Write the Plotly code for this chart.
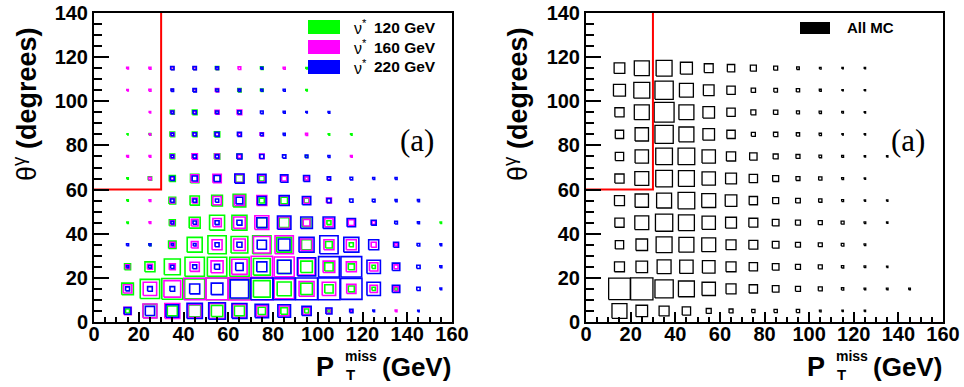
import math
import plotly.graph_objects as go

# ---------------- data ----------------
x_centers = [15, 25, 35, 45, 55, 65, 75, 85, 95, 105, 115, 125, 135, 145, 155]   # PT miss bin centres (GeV)
y_centers = [5, 15, 25, 35, 45, 55, 65, 75, 85, 95, 105, 115]                    # theta bin centres (deg)
BIN_W = 10
x_ticks = [0, 20, 40, 60, 80, 100, 120, 140, 160]
y_ticks = [0, 20, 40, 60, 80, 100, 120, 140]
CUT_PT = 30
CUT_THETA = 60

# rows: theta bins (5 .. 115), columns: PT bins (15 .. 155)
nu120 = [
    [3.2, 36, 20, 29, 26, 20, 11, 8.9, 3.2, 1.4, 0, 0, 0, 0, 0],
    [27, 75, 88, 80, 97, 86, 56, 39, 27, 14, 7.2, 2.2, 1.4, 0, 0],
    [7.2, 20, 51, 75, 75, 75, 56, 36, 27, 14, 7.2, 2.2, 0, 0, 0],
    [0, 0.8, 11, 45, 67, 56, 67, 45, 20, 8.9, 3.2, 0, 0, 0, 0],
    [0.4, 0, 7.2, 24, 45, 45, 20, 20, 14, 3.2, 0, 0, 0, 0, 0.4],
    [0.4, 0, 8.9, 17, 23, 32, 5.0, 8.9, 5.0, 0, 0, 0, 0, 0, 0],
    [0.4, 2.2, 7.2, 14, 8.9, 11, 5.0, 0, 3.2, 0, 0, 0, 0, 0, 0],
    [0, 0, 4.4, 4.4, 5.7, 4.4, 0, 0, 0.8, 0, 0, 0, 0, 0, 0],
    [0.2, 0.6, 4.4, 4.4, 5.7, 2.2, 0, 0, 0, 0.4, 0.4, 0, 0, 0, 0],
    [0, 0, 3.2, 4.4, 2.2, 2.2, 0, 0, 0, 0, 0, 0, 0, 0, 0],
    [0, 0, 0.8, 1.4, 1.4, 2.2, 1.4, 0, 0.4, 0, 0, 0, 0, 0, 0],
    [0, 0, 1.4, 1.4, 2.2, 0, 1.4, 0, 0.4, 0, 0, 0, 0, 0, 0],
]
nu160 = [
    [11, 39, 45, 36, 47, 36, 23, 20, 11, 4.4, 0.8, 0, 0.6, 0, 0],
    [14, 36, 56, 94, 97, 100, 97, 80, 45, 36, 17, 11, 4.4, 0, 0],
    [3.2, 5.0, 7.2, 17, 29, 47, 91, 80, 56, 27, 20, 14, 3.2, 0, 0],
    [0, 0, 5.0, 8.9, 20, 27, 56, 67, 27, 20, 20, 5.0, 1.4, 0, 0],
    [0, 0.6, 3.2, 8.9, 14, 27, 39, 27, 8.9, 14, 7.2, 2.2, 0, 0, 0],
    [0, 0.6, 4.4, 5.0, 14, 20, 20, 17, 7.2, 5.0, 0, 0, 0, 0, 0],
    [0, 1.4, 2.2, 11, 14, 14, 8.9, 5.0, 2.2, 1.4, 0, 0, 0, 0, 0],
    [0.6, 0.6, 2.2, 5.7, 4.4, 2.2, 4.4, 0, 0, 0, 0.6, 0, 0, 0, 0],
    [0, 0.4, 2.2, 2.2, 2.2, 1.4, 2.2, 0, 0.8, 0, 0, 0, 0, 0, 0],
    [0, 0.4, 1.4, 1.4, 3.2, 4.4, 0, 0, 0, 0, 0, 0, 0, 0, 0],
    [0.4, 0.8, 0.8, 1.4, 2.2, 0.8, 0, 0, 0, 0, 0, 0, 0, 0, 0],
    [0.6, 0.8, 1.4, 1.4, 1.4, 1.4, 0, 0.8, 0, 0, 0, 0, 0, 0, 0],
]
nu220 = [
    [8.9, 17, 32, 47, 56, 45, 36, 32, 17, 7.2, 2.2, 0.6, 0, 0.4, 0],
    [3.2, 4.4, 4.4, 20, 27, 67, 97, 97, 97, 97, 91, 36, 11, 2.2, 0.6],
    [0.8, 1.4, 2.2, 3.2, 5.0, 11, 20, 36, 67, 86, 86, 36, 11, 2.2, 0.8],
    [0.8, 0.8, 0.8, 1.4, 3.2, 5.0, 17, 27, 45, 67, 45, 20, 5.0, 1.4, 0.6],
    [0, 0, 1.4, 2.2, 3.2, 5.0, 20, 36, 27, 27, 14, 5.0, 1.4, 0.8, 0],
    [0, 0, 2.2, 2.2, 2.2, 8.9, 14, 20, 14, 3.2, 2.2, 1.4, 0.8, 0.8, 0],
    [0, 0, 3.2, 5.0, 7.2, 17, 14, 11, 7.2, 2.2, 1.4, 0.8, 0.8, 0, 0],
    [0, 0, 1.4, 2.2, 2.2, 5.0, 3.2, 2.2, 1.4, 0.8, 0, 0, 0, 0, 0],
    [0, 0, 1.4, 2.2, 3.2, 3.2, 1.4, 0.8, 0, 0, 0, 0, 0, 0, 0],
    [0, 0, 1.4, 2.2, 1.4, 2.2, 1.4, 0.8, 0.4, 0.6, 0, 0, 0, 0, 0],
    [0, 0, 1.1, 2.2, 1.4, 1.1, 0.8, 0.8, 0, 0, 0, 0, 0, 0, 0],
    [0, 0, 2.2, 2.2, 1.4, 0, 0.8, 0, 0, 0, 0, 0, 0, 0, 0],
]
all_mc = [
    [45, 27, 20, 14, 5.0, 3.2, 2.2, 2.2, 2.2, 0.6, 0.4, 0.4, 0, 0, 0],
    [94, 100, 67, 51, 36, 20, 14, 8.9, 5.0, 3.2, 1.1, 0.6, 0.6, 0.6, 0],
    [20, 27, 39, 36, 32, 20, 14, 8.9, 5.0, 3.2, 1.1, 0.6, 0.4, 0, 0],
    [14, 27, 51, 45, 39, 20, 16, 8.9, 5.0, 3.2, 1.4, 0.6, 0, 0, 0],
    [17, 39, 60, 51, 36, 24, 16, 8.9, 5.0, 3.2, 1.8, 0.6, 0.4, 0, 0],
    [20, 36, 45, 56, 39, 27, 14, 7.2, 4.4, 2.2, 0.8, 0.4, 0.4, 0, 0],
    [17, 39, 56, 51, 36, 24, 14, 7.2, 3.2, 2.2, 0.8, 0.4, 0, 0, 0],
    [14, 36, 56, 56, 36, 17, 11, 5.0, 3.2, 1.4, 0.8, 0.4, 0.4, 0, 0],
    [14, 36, 67, 45, 27, 14, 3.2, 3.8, 2.2, 1.1, 0.4, 0.4, 0, 0, 0],
    [17, 45, 80, 45, 27, 14, 5.0, 3.8, 1.8, 1.1, 0.6, 0.4, 0, 0, 0],
    [29, 51, 67, 39, 23, 14, 3.8, 2.7, 2.2, 0.8, 0.4, 0.4, 0, 0, 0],
    [23, 45, 51, 29, 16, 11, 7.2, 3.2, 1.4, 0.6, 0.4, 0.4, 0, 0, 0],
]
left_series = [("120 GeV", nu120, "#00ff00"),
               ("160 GeV", nu160, "#ff00ff"),
               ("220 GeV", nu220, "#0000ff")]

# ---------------- helpers ----------------
W, H = 964, 387


def box_path(counts, vmax):
    xs, ys = [], []
    for j, yc in enumerate(y_centers):
        for i, xc in enumerate(x_centers):
            v = counts[j][i]
            if v <= 0:
                continue
            h = 0.5 * BIN_W * math.sqrt(v / vmax)
            xs += [xc - h, xc + h, xc + h, xc - h, xc - h, None]
            ys += [yc - h, yc - h, yc + h, yc + h, yc - h, None]
    return xs, ys


def px(xp):
    return xp / W


def py(yp):
    return 1 - yp / H


fig = go.Figure()
vmax_left = max(max(max(r) for r in s[1]) for s in left_series)
for name, data, col in left_series:
    xs, ys = box_path(data, vmax_left)
    fig.add_trace(go.Scatter(x=xs, y=ys, mode="lines", line=dict(color=col, width=1.6),
                             xaxis="x", yaxis="y", showlegend=False, hoverinfo="skip"))
vmax_right = max(max(r) for r in all_mc)
xs, ys = box_path(all_mc, vmax_right)
fig.add_trace(go.Scatter(x=xs, y=ys, mode="lines", line=dict(color="black", width=1.3),
                         xaxis="x2", yaxis="y2", showlegend=False, hoverinfo="skip"))

# cut lines
for xa, ya in (("x", "y"), ("x2", "y2")):
    fig.add_trace(go.Scatter(x=[0, CUT_PT, CUT_PT], y=[CUT_THETA, CUT_THETA, y_ticks[-1]],
                             mode="lines", line=dict(color="#ff0000", width=2),
                             xaxis=xa, yaxis=ya, showlegend=False, hoverinfo="skip"))

FONT = "Liberation Sans"
axis_common = dict(range=[x_ticks[0], x_ticks[-1]], showline=True, linecolor="black", linewidth=2,
                   mirror=True, ticks="inside", ticklen=10, tickwidth=2, tickcolor="black",
                   tickvals=x_ticks, showgrid=False, zeroline=False, automargin=False,
                   ticklabelstandoff=-7,
                   minor=dict(ticks="inside", ticklen=5, tickwidth=1.5, dtick=5, tick0=0, tickcolor="black"),
                   tickfont=dict(family=FONT, size=20, color="black", weight="bold"))
yaxis_common = dict(range=[y_ticks[0], y_ticks[-1]], showline=True, linecolor="black", linewidth=2,
                    mirror=True, ticks="inside", ticklen=15, tickwidth=2, tickcolor="black",
                    tickvals=y_ticks, showgrid=False, zeroline=False, automargin=False,
                    minor=dict(ticks="inside", ticklen=8, tickwidth=1.5, dtick=5, tick0=0, tickcolor="black"),
                    tickfont=dict(family=FONT, size=20, color="black", weight="bold"))

dl = [px(94), px(452)]
dr = [px(586), px(943)]
dy = [py(322), py(13)]
fig.update_layout(
    width=W, height=H, margin=dict(l=0, r=0, t=0, b=0, autoexpand=False),
    paper_bgcolor="white", plot_bgcolor="white",
    xaxis=dict(domain=dl, anchor="y", **axis_common),
    yaxis=dict(domain=dy, anchor="x", **yaxis_common),
    xaxis2=dict(domain=dr, anchor="y2", **axis_common),
    yaxis2=dict(domain=dy, anchor="x2", **yaxis_common),
)

ann = []
shapes = []


def add_text(xp, yp, text, size, xanchor="left", family=FONT, angle=0):
    ann.append(dict(x=px(xp), y=py(yp), xref="paper", yref="paper", text=text,
                    xanchor=xanchor, yanchor="middle", showarrow=False, textangle=angle,
                    font=dict(family=family, size=size, color="black")))


for off in (0, 491):
    add_text(314 + off, 367, "<b>P</b>", 27)
    add_text(344 + off, 374, "<b>T</b>", 15)
    add_text(343 + off, 356, "<b>miss</b>", 14)
    add_text(453 + off, 367, "<b>(GeV)</b>", 26, xanchor="right")
    add_text(25 + off, 104, "θ<sup>γ</sup> <b>(degrees)</b>", 27, xanchor="center", angle=-90)
    add_text(417 + off, 140, "(a)", 31, xanchor="center", family="Liberation Serif")

# legends
leg_y = [27, 47, 67]
for (name, _, col), yc in zip(left_series, leg_y):
    shapes.append(dict(type="rect", xref="paper", yref="paper", x0=px(308), x1=px(340),
                       y0=py(yc + 7), y1=py(yc - 7), fillcolor=col, line=dict(width=0)))
    add_text(352, yc, "ν<sup>*</sup>", 16)
    add_text(372, yc, "<b>" + name + "</b>", 15.5)
shapes.append(dict(type="rect", xref="paper", yref="paper", x0=px(800), x1=px(830),
                   y0=py(34), y1=py(22), fillcolor="black", line=dict(width=0)))
add_text(845, 28, "<b>All MC</b>", 15)

fig.update_layout(annotations=ann, shapes=shapes)
fig.write_html("out.html", config={"displayModeBar": False},
               post_script="document.body.style.margin='0';")
